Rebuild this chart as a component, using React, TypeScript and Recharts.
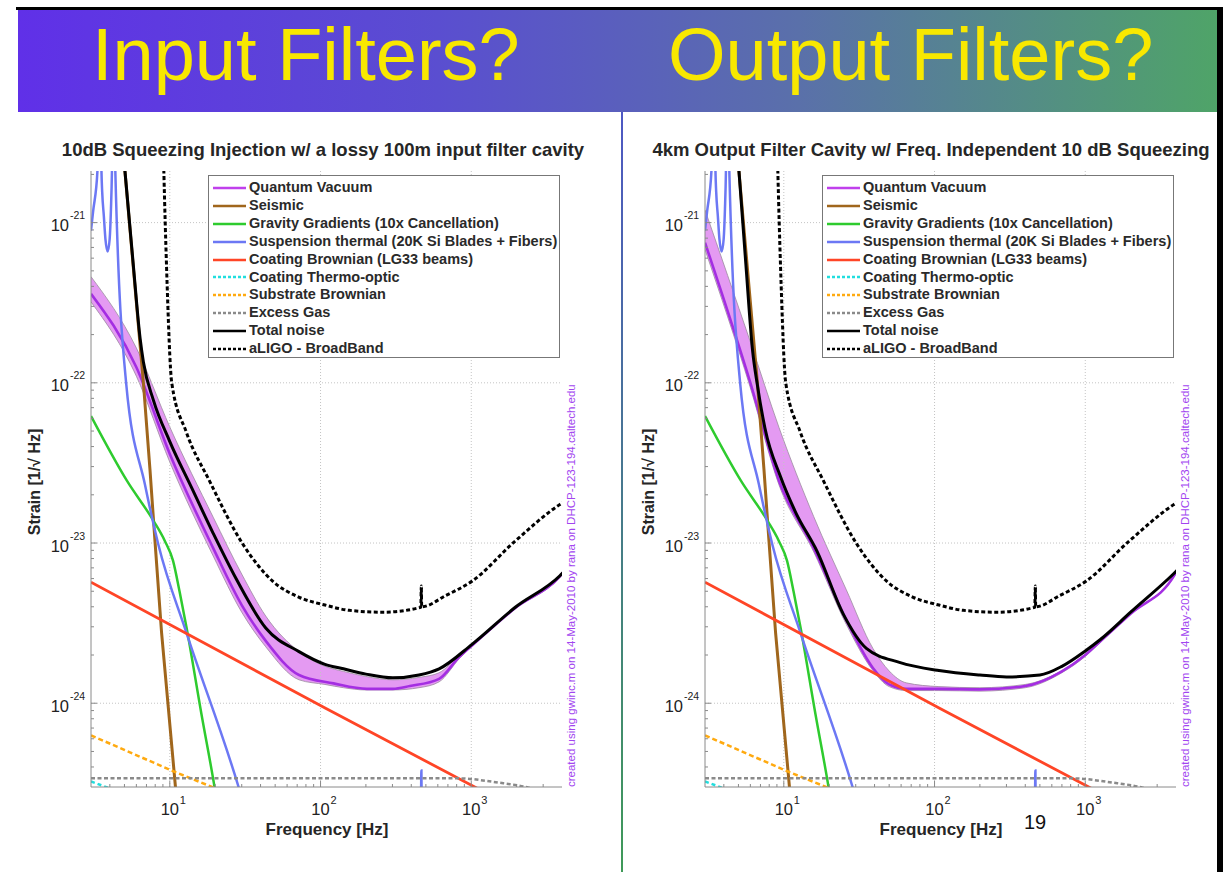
import React from 'react'
import { Area, ComposedChart, Line, ReferenceLine, XAxis, YAxis } from 'recharts'

const FONT = '"Liberation Sans", Arial, Helvetica, sans-serif'
const FRAME = '#8a8a8a'
const GRID = '#c4c4c4'

// log axes, MATLAB style
const xDomain = [3, 4000]
const yDomain = [3e-25, 2.1e-21]
const xMajor = [10, 100, 1000]
const xExp = ['1', '2', '3']
const xMinor = [4, 5, 6, 7, 8, 9, 20, 30, 40, 50, 60, 70, 80, 90, 200, 300, 400, 500, 600, 700, 800, 900, 2000, 3000]
const yMajor = [1e-24, 1e-23, 1e-22, 1e-21]
const yExp = ['-24', '-23', '-22', '-21']
const yMinor = [
  4e-25, 5e-25, 6e-25, 7e-25, 8e-25, 9e-25,
  2e-24, 3e-24, 4e-24, 5e-24, 6e-24, 7e-24, 8e-24, 9e-24,
  2e-23, 3e-23, 4e-23, 5e-23, 6e-23, 7e-23, 8e-23, 9e-23,
  2e-22, 3e-22, 4e-22, 5e-22, 6e-22, 7e-22, 8e-22, 9e-22,
  2e-21,
]

// noise terms shared by both plots (f in Hz, strain in 1/rtHz)
const seismicF = [4.7, 5.04, 6.68, 7.38, 7.96, 8.82, 10.9, 12]
const seismicH = [4.6e-21, 2.08e-21, 1.0e-22, 2.9e-23, 1.05e-23, 2.75e-24, 3.0e-25, 1.0e-25]

const gravityF = [3, 5.19, 7.78, 9.27, 10.5, 11.6, 12.9, 16.2, 19.8, 23]
const gravityH = [6.2e-23, 2.45e-23, 1.38e-23, 1.03e-23, 7.76e-24, 5.0e-24, 2.98e-24, 8.6e-25, 3.0e-25, 1.2e-25]

const suspF = [3, 3.1, 3.31, 3.42, 3.52, 3.56, 3.65, 3.74, 3.87, 3.99, 4.07, 4.13, 4.25, 4.35, 5.13, 6.85, 8.39, 12.9, 28.6, 40, 455, 467, 480]
const suspH = [
  8.9e-22, 1.18e-21, 2.1e-21, 3e-20, 2.1e-21, 1.55e-21, 1.1e-21, 7.9e-22, 6.6e-22, 7.9e-22, 1.22e-21,
  2.07e-21, 3e-20, 2.1e-21, 1.0e-22, 2.3e-23, 9.8e-24, 2.75e-24, 3.0e-25, 1.0e-25, 1e-26, 3.8e-25, 1e-26,
]

const coatingF = [3, 108, 1130, 4000]
const coatingH = [5.7e-24, 9.3e-25, 2.9e-25, 1.55e-25]

const thermoF = [3, 4.24, 6]
const thermoH = [3.25e-25, 2.88e-25, 2.5e-25]

const substrateF = [3, 11, 20.9, 40]
const substrateH = [6.3e-25, 3.7e-25, 2.9e-25, 2.2e-25]

const gasF = [3, 800, 1500, 2400, 4000]
const gasH = [3.4e-25, 3.4e-25, 3.2e-25, 2.97e-25, 2.5e-25]

const aligoF = [8.9, 9.13, 9.51, 10.3, 12.9, 18.3, 30.4, 47.9, 71.6, 107, 155, 259, 463, 466, 469, 677, 1016, 1959, 3873, 4100]
const aligoH = [
  6e-21, 2.08e-21, 5.37e-22, 1.0e-22, 4.9e-23, 2.45e-23, 9.9e-24, 5.8e-24, 4.6e-24, 4.1e-24,
  3.8e-24, 3.7e-24, 3.97e-24, 5.4e-24, 4.0e-24, 4.7e-24, 5.8e-24, 1.03e-23, 1.74e-23, 1.8e-23,
]

// input filter cavity (left)
const inQvF = [3, 6, 10, 19.4, 30, 43.3, 72, 122, 203, 302, 391, 612, 834, 1016, 1959, 3873, 4100]
const inQvH = [3.6e-22, 1.25e-22, 3.6e-23, 9.3e-24, 4.1e-24, 2.45e-24, 1.5e-24, 1.33e-24, 1.23e-24, 1.23e-24, 1.28e-24, 1.42e-24, 1.95e-24, 2.3e-24, 3.93e-24, 6.2e-24, 6.6e-24]
const inBandF = [3, 6, 10, 19.4, 30, 43.3, 72, 107, 142, 200, 302, 450, 612, 834, 1016, 1959, 3873, 4100]
const inBandLo = [3.2e-22, 1.1e-22, 3.2e-23, 8.3e-24, 3.7e-24, 2.25e-24, 1.4e-24, 1.31e-24, 1.25e-24, 1.21e-24, 1.21e-24, 1.25e-24, 1.36e-24, 1.9e-24, 2.28e-24, 3.9e-24, 6.1e-24, 6.5e-24]
const inBandHi = [4.6e-22, 1.65e-22, 5.3e-23, 1.45e-23, 6.4e-24, 3.5e-24, 2.1e-24, 1.7e-24, 1.58e-24, 1.47e-24, 1.4e-24, 1.45e-24, 1.55e-24, 2.0e-24, 2.32e-24, 3.95e-24, 6.2e-24, 6.6e-24]
const inTotalF = [4.7, 5.04, 5.74, 6.35, 6.68, 7.78, 10, 14, 19.4, 27.5, 43.3, 72, 107, 142, 200, 302, 450, 612, 1016, 1959, 3873, 4100]
const inTotalH = [
  4.6e-21, 2.1e-21, 5.3e-22, 1.9e-22, 1.35e-22, 7.8e-23, 4.3e-23, 2.2e-23, 1.15e-23, 6.0e-24, 2.95e-24,
  2.1e-24, 1.75e-24, 1.64e-24, 1.52e-24, 1.44e-24, 1.5e-24, 1.64e-24, 2.34e-24, 3.97e-24, 6.25e-24, 6.6e-24,
]

// output filter cavity (right)
const outQvF = [3, 6, 9.3, 15.8, 26, 39, 50, 65, 107, 200, 400, 700, 1000, 1260, 2000, 4000, 4100]
const outQvH = [7.5e-22, 1.0e-22, 2.44e-23, 9.3e-24, 3.3e-24, 1.66e-24, 1.31e-24, 1.23e-24, 1.23e-24, 1.22e-24, 1.28e-24, 1.58e-24, 2.0e-24, 2.44e-24, 3.62e-24, 6.55e-24, 6.85e-24]
const outBandF = [3, 6, 9.3, 15.8, 26, 39, 50, 65, 107, 200, 400, 700, 1000, 1260, 2000, 4000, 4100]
const outBandLo = [6.8e-22, 9.3e-23, 2.3e-23, 8.8e-24, 3.1e-24, 1.6e-24, 1.27e-24, 1.2e-24, 1.2e-24, 1.19e-24, 1.25e-24, 1.55e-24, 1.96e-24, 2.4e-24, 3.6e-24, 6.5e-24, 6.8e-24]
const outBandHi = [1.2e-21, 1.8e-22, 5.25e-23, 1.46e-23, 5.1e-24, 2.2e-24, 1.59e-24, 1.34e-24, 1.27e-24, 1.25e-24, 1.31e-24, 1.6e-24, 2.02e-24, 2.45e-24, 3.65e-24, 6.6e-24, 6.9e-24]
const outTotalF = [4.7, 5.04, 5.6, 6.2, 6.7, 7.5, 9.5, 12, 16.6, 24.8, 35.3, 58.5, 107, 200, 300, 500, 700, 1000, 1260, 2000, 3873, 4100]
const outTotalH = [
  4.6e-21, 2.1e-21, 5.5e-22, 1.6e-22, 9.5e-23, 5.2e-23, 2.6e-23, 1.55e-23, 8.9e-24, 3.6e-24, 2.2e-24,
  1.8e-24, 1.6e-24, 1.5e-24, 1.46e-24, 1.5e-24, 1.7e-24, 2.12e-24, 2.5e-24, 3.7e-24, 6.45e-24, 6.8e-24,
]

const legendItems = [
  { label: 'Quantum Vacuum', color: '#c040ec', dash: undefined },
  { label: 'Seismic', color: '#a0661c', dash: undefined },
  { label: 'Gravity Gradients (10x Cancellation)', color: '#2ecb2e', dash: undefined },
  { label: 'Suspension thermal (20K Si Blades + Fibers)', color: '#6c78f4', dash: undefined },
  { label: 'Coating Brownian (LG33 beams)', color: '#ff4526', dash: undefined },
  { label: 'Coating Thermo-optic', color: '#22dede', dash: '3 2' },
  { label: 'Substrate Brownian', color: '#ffaa10', dash: '3 2' },
  { label: 'Excess Gas', color: '#8a8a8a', dash: '3 2' },
  { label: 'Total noise', color: '#000000', dash: undefined },
  { label: 'aLIGO - BroadBand', color: '#000000', dash: '3 2' },
]

const rows = (f: number[], h: number[]) => f.map((x, i) => ({ f: x, h: h[i] }))
const bandRows = (f: number[], lo: number[], hi: number[]) => f.map((x, i) => ({ f: x, r: [lo[i], hi[i]] }))
const majorIndex = (list: number[], v: number) => list.findIndex((m) => Math.abs(v / m - 1) < 1e-6)

const xAll = [...xMinor, ...xMajor].sort((a, b) => a - b)
const yAll = [...yMinor, ...yMajor].sort((a, b) => a - b)

const bottomTick = (p: any) => {
  const i = majorIndex(xMajor, p.payload.value)
  const len = i >= 0 ? 6 : 3
  return (
    <g>
      <line x1={p.x} x2={p.x} y1={p.y} y2={p.y - len} stroke={FRAME} />
      {i >= 0 && (
        <>
          <text x={p.x} y={p.y + 28} textAnchor="middle" fontSize={16.5} fill="#222" fontFamily={FONT}>10</text>
          <text x={p.x + 10} y={p.y + 17} fontSize={11} fill="#222" fontFamily={FONT}>{xExp[i]}</text>
        </>
      )}
    </g>
  )
}

const topTick = (p: any) => {
  const len = majorIndex(xMajor, p.payload.value) >= 0 ? 6 : 3
  return <line x1={p.x} x2={p.x} y1={p.y} y2={p.y + len} stroke={FRAME} />
}

const leftTick = (p: any) => {
  const i = majorIndex(yMajor, p.payload.value)
  const len = i >= 0 ? 6 : 3
  return (
    <g>
      <line x1={p.x} x2={p.x + len} y1={p.y} y2={p.y} stroke={FRAME} />
      {i >= 0 && (
        <>
          <text x={p.x - 22} y={p.y + 8.5} textAnchor="end" fontSize={16.5} fill="#222" fontFamily={FONT}>10</text>
          <text x={p.x - 21} y={p.y - 3.5} fontSize={10.5} fill="#222" fontFamily={FONT}>{yExp[i]}</text>
        </>
      )}
    </g>
  )
}

const rightTick = (p: any) => {
  const len = majorIndex(yMajor, p.payload.value) >= 0 ? 6 : 3
  return <line x1={p.x} x2={p.x - len} y1={p.y} y2={p.y} stroke={FRAME} />
}

function LegendBox({ left }: { left: number }) {
  return (
    <div
      style={{
        position: 'absolute', left, top: 175, width: 352, height: 183, boxSizing: 'border-box',
        border: '1px solid #777', background: '#fff', fontFamily: FONT, fontSize: 14.5, fontWeight: 'bold', color: '#2a2a2a',
      }}
    >
      {legendItems.map((it, i) => (
        <div
          key={it.label}
          style={{ position: 'absolute', left: 4, top: 3 + i * 17.9, height: 17.9, display: 'flex', alignItems: 'center', whiteSpace: 'nowrap' }}
        >
          <svg width={33} height={6}>
            <line x1={0} y1={3} x2={33} y2={3} stroke={it.color} strokeWidth={2.6} strokeDasharray={it.dash} />
          </svg>
          <span style={{ marginLeft: 3, lineHeight: '17.9px' }}>{it.label}</span>
        </div>
      ))}
    </div>
  )
}

interface PanelProps {
  shift: number
  titleX: number
  title: string
  qvF: number[]
  qvH: number[]
  bandF: number[]
  bandLo: number[]
  bandHi: number[]
  totalF: number[]
  totalH: number[]
}

function NoisePanel({ shift, titleX, title, qvF, qvH, bandF, bandLo, bandHi, totalF, totalH }: PanelProps) {
  const line = { dot: false, isAnimationActive: false, activeDot: false, legendType: 'none' as const }
  return (
    <>
      <div
        style={{
          position: 'absolute', left: titleX, top: 150, transform: 'translate(-50%, -50%)', whiteSpace: 'nowrap',
          fontFamily: FONT, fontSize: 18.5, fontWeight: 'bold', color: '#262626',
        }}
      >
        {title}
      </div>

      <div style={{ position: 'absolute', left: 20 + shift, top: 130 }}>
        <ComposedChart width={590} height={720} margin={{ top: 41, right: 48, bottom: 23, left: 11 }}>
          <XAxis
            dataKey="f" type="number" scale="log" domain={xDomain} allowDataOverflow ticks={xAll} interval={0}
            height={40} tickSize={0} tickMargin={0} tickLine={false} axisLine={{ stroke: FRAME }} tick={bottomTick}
          />
          <XAxis
            xAxisId="top" orientation="top" dataKey="f" type="number" scale="log" domain={xDomain} allowDataOverflow
            ticks={xAll} interval={0} height={0} tickSize={0} tickMargin={0} tickLine={false} axisLine={{ stroke: FRAME }} tick={topTick}
          />
          <YAxis
            type="number" scale="log" domain={yDomain} allowDataOverflow ticks={yAll} interval={0}
            width={60} tickSize={0} tickMargin={0} tickLine={false} axisLine={{ stroke: FRAME }} tick={leftTick}
          />
          <YAxis
            yAxisId="right" orientation="right" type="number" scale="log" domain={yDomain} allowDataOverflow ticks={yAll}
            interval={0} width={0} tickSize={0} tickMargin={0} tickLine={false} axisLine={{ stroke: FRAME }} tick={rightTick}
          />

          {xMajor.map((v) => (
            <ReferenceLine key={`gx${v}`} x={v} stroke={GRID} strokeDasharray="1 2" />
          ))}
          {yMajor.map((v) => (
            <ReferenceLine key={`gy${v}`} y={v} stroke={GRID} strokeDasharray="1 2" />
          ))}

          <Area
            data={bandRows(bandF, bandLo, bandHi)} dataKey="r" type="monotone" fill="#e49af2" fillOpacity={1}
            stroke="#9a8c9e" strokeWidth={0.8} isAnimationActive={false} dot={false} activeDot={false}
          />
          <Line {...line} data={rows(qvF, qvH)} dataKey="h" type="monotone" stroke="#a42ee2" strokeWidth={2.6} />
          <Line {...line} data={rows(seismicF, seismicH)} dataKey="h" type="linear" stroke="#a0661c" strokeWidth={3} />
          <Line {...line} data={rows(gravityF, gravityH)} dataKey="h" type="monotone" stroke="#2ecb2e" strokeWidth={2.5} />
          <Line {...line} data={rows(suspF, suspH)} dataKey="h" type="monotone" stroke="#6c78f4" strokeWidth={2.5} />
          <Line {...line} data={rows(coatingF, coatingH)} dataKey="h" type="linear" stroke="#ff4526" strokeWidth={2.8} />
          <Line {...line} data={rows(thermoF, thermoH)} dataKey="h" type="linear" stroke="#22dede" strokeWidth={2.5} strokeDasharray="4 3" />
          <Line {...line} data={rows(substrateF, substrateH)} dataKey="h" type="linear" stroke="#ffaa10" strokeWidth={2.5} strokeDasharray="5 3" />
          <Line {...line} data={rows(gasF, gasH)} dataKey="h" type="monotone" stroke="#8a8a8a" strokeWidth={2.5} strokeDasharray="4 2.5" />
          <Line {...line} data={rows(totalF, totalH)} dataKey="h" type="monotone" stroke="#000" strokeWidth={3} />
          <Line {...line} data={rows(aligoF, aligoH)} dataKey="h" type="monotone" stroke="#000" strokeWidth={3} strokeDasharray="4 2.5" />
        </ComposedChart>
      </div>

      <LegendBox left={208 + shift} />

      <div
        style={{
          position: 'absolute', left: 34.5 + shift, top: 482, transform: 'translate(-50%, -50%) rotate(-90deg)',
          whiteSpace: 'nowrap', fontFamily: FONT, fontSize: 16, fontWeight: 'bold', color: '#262626',
        }}
      >
        Strain [1/√ Hz]
      </div>
      <div
        style={{
          position: 'absolute', left: 327 + shift, top: 830, transform: 'translate(-50%, -50%)',
          whiteSpace: 'nowrap', fontFamily: FONT, fontSize: 17, fontWeight: 'bold', color: '#262626',
        }}
      >
        Frequency [Hz]
      </div>
      <div
        style={{
          position: 'absolute', left: 565 + shift, top: 787, transformOrigin: '0 0', transform: 'rotate(-90deg)',
          whiteSpace: 'nowrap', fontFamily: FONT, fontSize: 11.5, lineHeight: '13px', color: '#a245f0',
        }}
      >
        created using gwinc.m on 14-May-2010 by rana on DHCP-123-194.caltech.edu
      </div>
    </>
  )
}

export default function App() {
  return (
    <div style={{ position: 'absolute', left: 0, top: 0, width: 1223, height: 872, background: '#fff', overflow: 'hidden' }}>
      <div
        style={{
          position: 'absolute', left: 18, top: 10, width: 1200, height: 102,
          background: 'linear-gradient(90deg, #6030e8 0%, #5a4ed0 35%, #5a70aa 65%, #4fa468 100%)',
        }}
      />
      <svg width={1223} height={120} style={{ position: 'absolute', left: 0, top: 0 }}>
        <text x={92} y={80} fontFamily={FONT} fontSize={74} fill="#f8e800">Input Filters?</text>
        <text x={668} y={80} fontFamily={FONT} fontSize={74} fill="#f8e800">Output Filters?</text>
      </svg>

      <NoisePanel
        shift={0}
        titleX={323}
        title="10dB Squeezing Injection w/ a lossy 100m input filter cavity"
        qvF={inQvF} qvH={inQvH}
        bandF={inBandF} bandLo={inBandLo} bandHi={inBandHi}
        totalF={inTotalF} totalH={inTotalH}
      />
      <NoisePanel
        shift={614}
        titleX={931}
        title="4km Output Filter Cavity w/ Freq. Independent 10 dB Squeezing"
        qvF={outQvF} qvH={outQvH}
        bandF={outBandF} bandLo={outBandLo} bandHi={outBandHi}
        totalF={outTotalF} totalH={outTotalH}
      />

      <div
        style={{
          position: 'absolute', left: 621, top: 112, width: 2, height: 760,
          background: 'linear-gradient(180deg, #4e58c4 0%, #3f9a58 100%)',
        }}
      />
      <div
        style={{
          position: 'absolute', left: 1035, top: 822, transform: 'translate(-50%, -50%)',
          fontFamily: FONT, fontSize: 20, color: '#111',
        }}
      >
        19
      </div>
      <div style={{ position: 'absolute', left: 16, top: 7, width: 1207, height: 3, background: '#000' }} />
      <div style={{ position: 'absolute', left: 1217, top: 7, width: 6, height: 865, background: '#000' }} />
    </div>
  )
}
